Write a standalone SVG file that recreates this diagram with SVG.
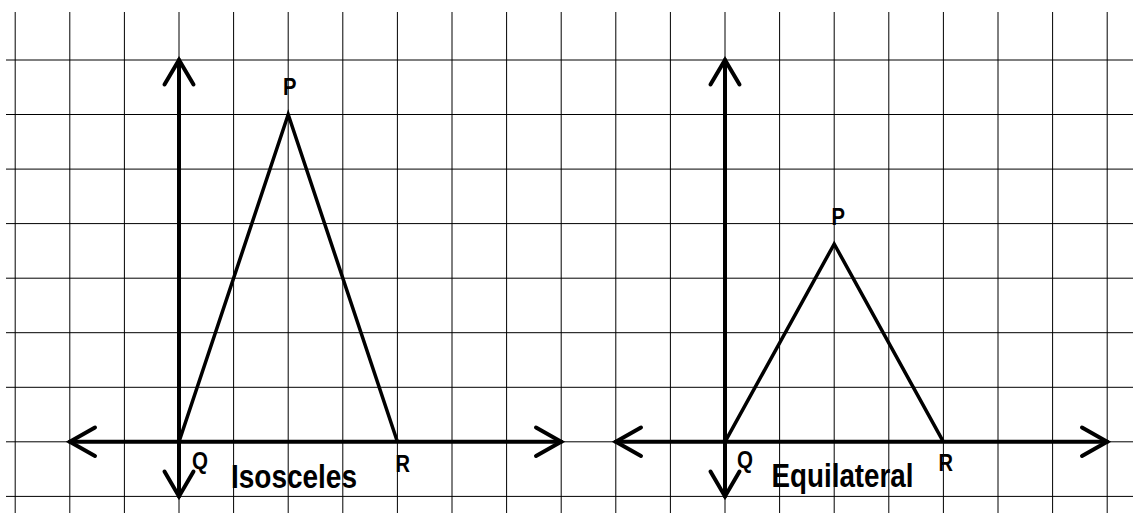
<svg xmlns="http://www.w3.org/2000/svg" width="1133" height="513" viewBox="0 0 1133 513">
<style>
.grid{stroke:#000;stroke-width:1;fill:none}
.axis{stroke:#000;stroke-width:4;fill:none;stroke-linecap:round;stroke-linejoin:miter}
.tri{stroke:#000;stroke-width:3.5;fill:none;stroke-linejoin:miter}
.lbl{font-family:"Liberation Sans",Arial,sans-serif;font-weight:bold;font-size:24px;fill:#000}
.title{font-family:"Liberation Sans",Arial,sans-serif;font-weight:bold;font-size:34px;fill:#000}
</style>
<rect width="1133" height="513" fill="#fff"/>
<g id="grid" class="grid">
<path d="M15.2 12V513M69.8 12V513M124.4 12V513M179 12V513M233.6 12V513M288.2 12V513M342.8 12V513M397.4 12V513M452 12V513M506.6 12V513M561.2 12V513M615.8 12V513M670.4 12V513M725 12V513M779.6 12V513M834.2 12V513M888.8 12V513M943.4 12V513M998 12V513M1052.6 12V513M1107.2 12V513"/>
<path d="M6 60H1133M6 114.5H1133M6 169.1H1133M6 223.6H1133M6 278.2H1133M6 332.7H1133M6 387.3H1133M6 441.8H1133M6 496.4H1133"/>
</g>
<g id="connectors">
<g id="left-axes" class="axis">
<path d="M179 60V496.4"/>
<path d="M164.5 84.5L179 60L193.5 84.5"/>
<path d="M164.5 471.5L179 496.4L193.5 471.5"/>
<path d="M69.8 441.8H561.2"/>
<path d="M95 427.5L69.8 441.8L95 456"/>
<path d="M536 427.5L561.2 441.8L536 456"/>
</g>
<g id="right-axes" class="axis">
<path d="M725 60V496.4"/>
<path d="M710.5 84.5L725 60L739.5 84.5"/>
<path d="M710.5 471.5L725 496.4L739.5 471.5"/>
<path d="M615.8 441.8H1107.2"/>
<path d="M641 427.5L615.8 441.8L641 456"/>
<path d="M1082 427.5L1107.2 441.8L1082 456"/>
</g>
</g>
<g id="isosceles">
<polyline class="tri" points="179,441.8 288.2,114.5 397.4,441.8"/>
<text class="lbl" x="283" y="95" textLength="13.5" lengthAdjust="spacingAndGlyphs">P</text>
<text class="lbl" x="192" y="469" textLength="16" lengthAdjust="spacingAndGlyphs">Q</text>
<text class="lbl" x="395.5" y="471.5" textLength="14.5" lengthAdjust="spacingAndGlyphs">R</text>
<text class="title" x="231" y="488" textLength="126" lengthAdjust="spacingAndGlyphs">Isosceles</text>
</g>
<g id="equilateral">
<polyline class="tri" points="725,441.8 834.2,244 943.4,441.8"/>
<text class="lbl" x="831.5" y="225" textLength="13.5" lengthAdjust="spacingAndGlyphs">P</text>
<text class="lbl" x="737" y="468" textLength="16" lengthAdjust="spacingAndGlyphs">Q</text>
<text class="lbl" x="938.5" y="471" textLength="14.5" lengthAdjust="spacingAndGlyphs">R</text>
<text class="title" x="771.5" y="487" textLength="142" lengthAdjust="spacingAndGlyphs">Equilateral</text>
</g>
</svg>
